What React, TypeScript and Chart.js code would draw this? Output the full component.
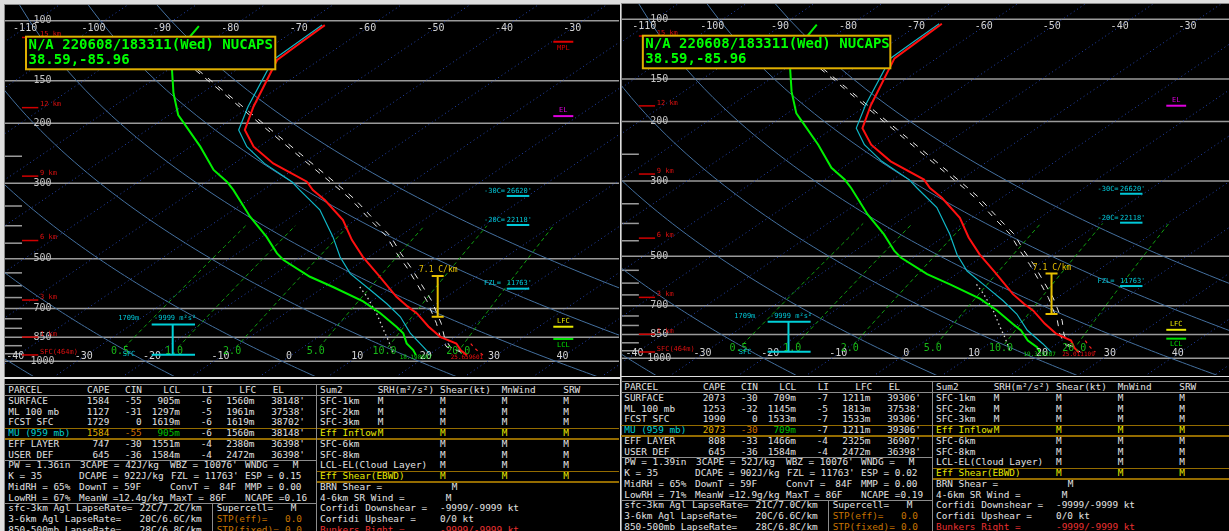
import React, { useEffect, useRef } from "react";
import { Chart, registerables } from "chart.js";
Chart.register(...registerables);

// ---------------- data ----------------
const SKEW = 32.13;
const majorIsobars = [100, 150, 200, 300, 500, 700, 850, 1000];
const minorIsobars = [250, 350, 400, 450, 550, 600, 650, 750, 800, 900, 950];
const topTempLabels = [-110, -100, -90, -80, -70, -60, -50, -40, -30];
const bottomTempLabels = [-40, -30, -20, -10, 0, 10, 20, 30, 40];
const isothermTemps = [-160, -150, -140, -130, -120, -110, -100, -90, -80, -70, -60, -50, -40, -30, -20, -10, 0, 10, 20, 30, 40, 50];
const dryAdiabatThetas = [-40, -20, 0, 20, 40, 60, 80];
const mixingRatios = [0.5, 1, 2, 5, 10, 20];
const mixingRatioLabels = ["0.5", "1.0", "2.0", "5.0", "10.0", "20.0"];
const heightLabels = ["15 km", "12 km", "9 km", "6 km", "3 km", "1 km", "SFC(464m)"];
const heightPressures = [112, 180, 286, 442, 661, 849, 958];

// left sounding
const tempP_L = [103, 116.3, 130.4, 178.9, 209.4, 234.3, 262.4, 297, 314.4, 336.1, 384.8, 440, 493.5, 560, 646.7, 690, 723.4, 790, 847.8, 886.7, 930, 959];
const tempT_L = [-66.8, -66.5, -66.2, -59.5, -55.7, -50.8, -44.3, -35.4, -32.7, -28.8, -21.8, -16.2, -10.9, -4.5, 2.7, 6.4, 9.3, 13.8, 17.8, 21.6, 23.8, 25.66];
const wetP_L = [103, 116.3, 130.4, 178.9, 209.4, 234.3, 262.4, 297, 314.4, 359.2, 431.3, 493.9, 552.8, 617.6, 676.4, 740.1, 826.6, 905.4, 959];
const wetT_L = [-67.2, -67.0, -66.8, -60.3, -56.6, -51.8, -45.6, -37.6, -34.6, -27.4, -19.6, -14.2, -9.1, -2.6, 2.7, 7.6, 12.6, 17.4, 20.4];
const dewP_L = [103.7, 111.4, 139.5, 163.4, 189.2, 198.2, 234.3, 274.2, 296.9, 314.4, 376.3, 430.4, 482.1, 504.4, 564.7, 605.2, 666.6, 722.3, 791.9, 827.1, 885.9, 926.5, 959];
const dewT_L = [-85.0, -84.0, -79.4, -74.1, -68.7, -66.5, -58.6, -51.6, -47.1, -44.3, -36.1, -29.4, -24.2, -21.8, -14.3, -8.7, -1.2, 3.9, 9.2, 11.6, 14.3, 16.7, 18.2];
const virtP_L = [886.7, 910, 930, 959];
const virtT_L = [23.7, 25.0, 26.2, 28.0];
const parcelP_L = [139.5, 251.1, 314.4, 336.1, 384.8, 430.4, 482.1, 528.8, 588.8, 662.6, 773.6, 847.8, 908.9, 929.2, 959];
const parcelT_L = [-76.0, -41.8, -28.7, -24.9, -17.8, -11.8, -6.7, -2.3, 2.6, 7.9, 14.3, 17.8, 21.0, 23.2, 25.66];
const parcelVT_L = [-75.6, -41.2, -28.1, -24.3, -17.2, -11.2, -6.1, -1.7, 3.2, 8.6, 15.0, 18.4, 21.5, 23.6, 25.9];
const downP_L = [605.2, 646.7, 723.4, 809, 866.6, 959];
const downT_L = [-4.8, -1.6, 3.4, 8.0, 10.9, 15.0];

// right sounding (modified surface)
const tempT_R = [-66.8, -66.5, -66.2, -59.5, -55.7, -50.8, -44.3, -35.4, -32.7, -28.8, -21.8, -16.2, -10.9, -4.5, 2.7, 6.4, 9.3, 13.8, 17.8, 21.4, 23.4, 25.01];
const wetT_R = [-67.2, -67.0, -66.8, -60.3, -56.6, -51.8, -45.6, -37.6, -34.6, -27.4, -19.6, -14.2, -9.1, -2.6, 2.7, 7.6, 12.7, 17.9, 21.0];
const dewT_R = [-85.0, -84.0, -79.4, -74.1, -68.7, -66.5, -58.6, -51.6, -47.1, -44.3, -36.1, -29.4, -24.2, -21.8, -14.3, -8.7, -1.2, 3.9, 9.2, 11.8, 15.0, 17.8, 19.3];
const virtT_R = [23.5, 24.7, 25.8, 27.5];
const parcelT_R = [-75.0, -40.8, -27.7, -23.9, -16.8, -10.8, -5.7, -1.3, 3.5, 8.7, 15.0, 18.3, 21.2, 23.0, 25.01];
const parcelVT_R = [-74.6, -40.2, -27.1, -23.3, -16.2, -10.2, -5.1, -0.7, 4.1, 9.4, 15.7, 18.9, 21.7, 23.4, 25.3];

// table data
const parcelNames = ["SURFACE", "ML 100 mb", "FCST SFC", "MU (959 mb)", "EFF LAYER", "USER DEF"];
const capeL = ["1584", "1127", "1729", "1584", "747", "645"];
const cinL = ["-55", "-31", "0", "-55", "-30", "-36"];
const lclL = ["905m", "1297m", "1619m", "905m", "1551m", "1584m"];
const liL = ["-6", "-5", "-6", "-6", "-4", "-4"];
const lfcL = ["1560m", "1961m", "1619m", "1560m", "2380m", "2472m"];
const elL = ["38148'", "37538'", "38702'", "38148'", "36398'", "36398'"];
const capeR = ["2073", "1253", "1990", "2073", "808", "645"];
const cinR = ["-30", "-32", "0", "-30", "-33", "-36"];
const lclR = ["709m", "1145m", "1533m", "709m", "1466m", "1584m"];
const liR = ["-7", "-5", "-7", "-7", "-4", "-4"];
const lfcR = ["1211m", "1813m", "1533m", "1211m", "2325m", "2472m"];
const elR = ["39306'", "37538'", "39306'", "39306'", "36907'", "36398'"];
const indicesL = [
  ["PW = 1.36in", "3CAPE = 42J/kg", "WBZ = 10076'", "WNDG =", "M"],
  ["K = 35", "DCAPE = 922J/kg", "FZL = 11763'", "ESP = 0.15", ""],
  ["MidRH = 65%", "DownT = 59F", "ConvT =", "84F", "MMP = 0.00"],
  ["LowRH = 67%", "MeanW =12.4g/kg", "MaxT = 86F", "NCAPE =0.16", ""],
];
const indicesR = [
  ["PW = 1.39in", "3CAPE = 52J/kg", "WBZ = 10076'", "WNDG =", "M"],
  ["K = 35", "DCAPE = 902J/kg", "FZL = 11763'", "ESP = 0.02", ""],
  ["MidRH = 65%", "DownT = 59F", "ConvT =", "84F", "MMP = 0.00"],
  ["LowRH = 71%", "MeanW =12.9g/kg", "MaxT = 86F", "NCAPE =0.19", ""],
];
const lapseNames = ["sfc-3km Agl LapseRate=", "3-6km Agl LapseRate=", "850-500mb LapseRate="];
const lapseL = ["22C/7.2C/km", "20C/6.6C/km", "28C/6.8C/km"];
const lapseR = ["21C/7.0C/km", "20C/6.6C/km", "28C/6.8C/km"];
const stormNames = ["Supercell=", "STP(eff)=", "STP(fixed)="];
const stormVals = ["M", "0.0", "0.0"];
const sum2Names = ["SFC-1km", "SFC-2km", "SFC-3km", "Eff Inflow", "SFC-6km", "SFC-8km", "LCL-EL(Cloud Layer)", "Eff Shear(EBWD)"];
const sum2Srh = ["M", "M", "M", "M", "", "", "", ""];
const sum2Shear = ["M", "M", "M", "M", "M", "M", "M", "M"];
const sum2Wind = ["M", "M", "M", "M", "M", "M", "M", "M"];
const sum2Srw = ["M", "M", "M", "M", "M", "M", "M", "M"];
const extraNames = ["BRN Shear =", "4-6km SR Wind =", "Corfidi Downshear =", "Corfidi Upshear =", "Bunkers Right ="];
const extraVals = ["M", "M", "-9999/-9999 kt", "0/0 kt", "-9999/-9999 kt"];

// ---------------- helpers ----------------
const MONO = '"DejaVu Sans Mono", monospace';
const skewX = (t: number, p: number) => t + SKEW * Math.log(1000 / p);
const pts = (ps: number[], ts: number[]) => ps.map((p, i) => ({ x: skewX(ts[i], p), y: p }));
const mixT = (w: number, p: number) => {
  const e = (w * p) / (622 + w);
  const l = Math.log(e / 6.112);
  return (243.5 * l) / (17.67 - l);
};
const curveP: number[] = [];
for (let p = 1130; p >= 80; p -= 10) curveP.push(p);
const mixP: number[] = [];
for (let p = 910; p >= 400; p -= 15) mixP.push(p);

function ds(data: any[], color: string, width: number, dash: number[], order: number) {
  return { data, showLine: true, borderColor: color, borderWidth: width, borderDash: dash, pointRadius: 0, fill: false, tension: 0, order, clip: 0 };
}

type Cfg = {
  id: string; left: number; top: number; width: number; height: number;
  xMin: number; xMax: number; pTop: number; pBot: number; k: number;
  tempT: number[]; wetT: number[]; dewT: number[]; virtT: number[]; parcelT: number[]; parcelVT: number[];
  sfcTLabel: string; sfcTdLabel: string;
  mpl: number | null; el: number; lfc: number; lcl: number;
};

const cfgs: Cfg[] = [
  { id: "L", left: 5, top: 5, width: 614, height: 371, xMin: -40.53, xMax: 49.24, pTop: 89.93, pBot: 1104.5, k: 1,
    tempT: tempT_L, wetT: wetT_L, dewT: dewT_L, virtT: virtT_L, parcelT: parcelT_L, parcelVT: parcelVT_L,
    sfcTLabel: "25.659601", sfcTdLabel: "18.198987", mpl: 115.3, el: 190.6, lfc: 791.6, lcl: 860 },
  { id: "R", left: 622, top: 4, width: 607, height: 371, xMin: -40.87, xMax: 48.52, pTop: 90.1, pBot: 1120, k: 0.9927,
    tempT: tempT_R, wetT: wetT_R, dewT: dewT_R, virtT: virtT_R, parcelT: parcelT_R, parcelVT: parcelVT_R,
    sfcTLabel: "25.011109", sfcTdLabel: "19.329207", mpl: null, el: 179.8, lfc: 824, lcl: 875 },
];

function makePlugin(cfg: Cfg) {
  return {
    id: "skew" + cfg.id,
    beforeDatasetsDraw(chart: any) {
      const { ctx, chartArea: a, scales } = chart;
      const ys = scales.y;
      ctx.save();
      ctx.strokeStyle = "#9a9a9a";
      ctx.lineWidth = 1.5;
      majorIsobars.forEach((p) => {
        const y = ys.getPixelForValue(p);
        ctx.beginPath(); ctx.moveTo(a.left, y); ctx.lineTo(a.right, y); ctx.stroke();
      });
      minorIsobars.forEach((p) => {
        const y = ys.getPixelForValue(p);
        ctx.beginPath(); ctx.moveTo(a.left, y); ctx.lineTo(a.left + 17 * cfg.k, y); ctx.stroke();
      });
      ctx.restore();
    },
    afterDatasetsDraw(chart: any) {
      const { ctx, chartArea: a, scales } = chart;
      const xs = scales.x, ys = scales.y;
      const k = cfg.k;
      const RX = (r: number) => a.left + r * k;
      const PX = (t: number, p: number) => xs.getPixelForValue(skewX(t, p));
      const PY = (p: number) => ys.getPixelForValue(p);
      const text = (s: string, x: number, y: number, color: string, font: string, align: CanvasTextAlign = "center") => {
        ctx.font = font; ctx.fillStyle = color; ctx.textAlign = align; ctx.textBaseline = "middle";
        ctx.fillText(s, x, y);
      };
      const hline = (x1: number, x2: number, y: number, color: string, w: number) => {
        ctx.strokeStyle = color; ctx.lineWidth = w; ctx.setLineDash([]);
        ctx.beginPath(); ctx.moveTo(x1, y); ctx.lineTo(x2, y); ctx.stroke();
      };
      ctx.save();
      majorIsobars.forEach((p) => text(String(p), RX(37.5), PY(p), "#c4c4c4", "10px " + MONO));
      topTempLabels.forEach((t) => text(String(t), PX(t, 105), PY(105), "#d4d4d4", "10px " + MONO));
      bottomTempLabels.forEach((t) => text(String(t), PX(t, 970), PY(970), "#d4d4d4", "10px " + MONO));
      mixingRatios.forEach((w, i) => text(mixingRatioLabels[i], PX(mixT(w, 937), 937), PY(937), "#18b818", "10px " + MONO));
      heightPressures.forEach((p, i) => {
        const y = PY(p);
        hline(RX(17), RX(33.3), y, "#d00000", 1.5);
        text(heightLabels[i], RX(35), y - 3, "#e01010", "7px " + MONO, "left");
      });
      const marker = (p: number, label: string, color: string, above: boolean) => {
        const y = PY(p);
        hline(RX(548.3), RX(568.3), y, color, 2);
        text(label, RX(558.3), above ? y - 6 : y + 6, color, "7px " + MONO);
      };
      if (cfg.mpl) marker(cfg.mpl, "MPL", "#e00000", false);
      marker(cfg.el, "EL", "#e000e0", true);
      marker(cfg.lfc, "LFC", "#e8e800", true);
      marker(cfg.lcl, "LCL", "#00e000", false);
      const lvl = (p: number, lab: string, val: string) => {
        const y = PY(p);
        hline(RX(501.7), RX(524.3), y, "#00c8d8", 2);
        text(lab, RX(479), y - 5, "#00c8d8", "7px " + MONO, "left");
        text(val, RX(501.7), y - 5, "#00c8d8", "7px " + MONO, "left");
      };
      lvl(327, "-30C=", "26620'");
      lvl(398, "-20C=", "22118'");
      lvl(612, "FZL=", "11763'");
      {
        const yT = PY(780), yB = PY(956), xc = RX(167.7);
        ctx.strokeStyle = "#00d0d8"; ctx.lineWidth = 2; ctx.setLineDash([]);
        ctx.beginPath();
        ctx.moveTo(RX(146.7), yT); ctx.lineTo(RX(190), yT);
        ctx.moveTo(RX(146.7), yB); ctx.lineTo(RX(190), yB);
        ctx.moveTo(xc, yT); ctx.lineTo(xc, yB);
        ctx.stroke();
        text("1709m", RX(134.3), yT - 6, "#00c8d8", "7px " + MONO, "right");
        text("-9999 m²s²", RX(149), yT - 6, "#00c8d8", "7px " + MONO, "left");
        text("SFC", RX(124), yB, "#00c8d8", "7px " + MONO);
      }
      {
        const yT = PY(562), yB = PY(740), xc = RX(432.7);
        ctx.strokeStyle = "#e8c000"; ctx.lineWidth = 2; ctx.setLineDash([]);
        ctx.beginPath();
        ctx.moveTo(xc - 6, yT); ctx.lineTo(xc + 6, yT);
        ctx.moveTo(xc - 6, yB); ctx.lineTo(xc + 6, yB);
        ctx.moveTo(xc, yT); ctx.lineTo(xc, yB);
        ctx.stroke();
        text("7.1 C/km", RX(433.3), yT - 6, "#e8c000", "8px " + MONO);
      }
      text(cfg.sfcTdLabel, PX(cfg.dewT[cfg.dewT.length - 1], 959), PY(959) + 2, "#10d010", "6px " + MONO);
      text(cfg.sfcTLabel, PX(cfg.tempT[cfg.tempT.length - 1], 959), PY(959) + 2, "#f01010", "6px " + MONO);
      {
        const x1 = RX(21), x2 = RX(270.3), y1 = a.top + 31.7, y2 = a.top + 64.3;
        ctx.fillStyle = "#000"; ctx.fillRect(x1, y1, x2 - x1, y2 - y1);
        ctx.strokeStyle = "#e0b000"; ctx.lineWidth = 2; ctx.strokeRect(x1, y1, x2 - x1, y2 - y1);
        text("N/A 220608/183311(Wed) NUCAPS", x1 + 2.5, a.top + 40, "#00ff00", "bold 14px " + MONO, "left");
        text("38.59,-85.96", x1 + 2.5, a.top + 55.5, "#00ff00", "bold 14px " + MONO, "left");
      }
      ctx.restore();
    },
  };
}

function SkewT({ cfg }: { cfg: Cfg }) {
  const ref = useRef<HTMLCanvasElement>(null);
  useEffect(() => {
    const datasets: any[] = [];
    isothermTemps.forEach((t) =>
      datasets.push(ds([{ x: skewX(t, 1130), y: 1130 }, { x: skewX(t, 80), y: 80 }], "#2444b0", 1, [1, 3], 30)));
    dryAdiabatThetas.forEach((th) =>
      datasets.push(ds(curveP.map((p) => ({ x: skewX((th + 273.15) * Math.pow(p / 1000, 0.2857) - 273.15, p), y: p })), "#44709f", 1, [], 29)));
    mixingRatios.forEach((w) =>
      datasets.push(ds(mixP.map((p) => ({ x: skewX(mixT(w, p), p), y: p })), "#10a010", 1, [4, 3], 28)));
    datasets.push(ds(pts(downP_L, downT_L), "#d8d8d8", 1.3, [1.5, 3], 6));
    datasets.push(ds(pts(parcelP_L, cfg.parcelT), "#e8e8e8", 1, [6, 7], 5));
    datasets.push(ds(pts(parcelP_L, cfg.parcelVT), "#e8e8e8", 1, [6, 7], 5));
    datasets.push(ds(pts(virtP_L, cfg.virtT), "#ff2020", 1.2, [3, 4], 4));
    datasets.push(ds(pts(wetP_L, cfg.wetT), "#10b8c8", 1.2, [], 3));
    datasets.push(ds(pts(dewP_L, cfg.dewT), "#00f000", 2, [], 2));
    datasets.push(ds(pts(tempP_L, cfg.tempT), "#ff1010", 2, [], 1));
    const chart = new Chart(ref.current!, {
      type: "scatter",
      data: { datasets },
      options: {
        animation: false,
        responsive: false,
        maintainAspectRatio: false,
        devicePixelRatio: 1,
        events: [],
        layout: { padding: 0 },
        plugins: { legend: { display: false }, tooltip: { enabled: false }, title: { display: false } },
        scales: {
          x: { type: "linear", min: cfg.xMin, max: cfg.xMax, display: false },
          y: { type: "logarithmic", reverse: true, min: cfg.pTop, max: cfg.pBot, display: false },
        },
      },
      plugins: [makePlugin(cfg)],
    } as any);
    return () => chart.destroy();
  }, [cfg]);
  return (
    <canvas ref={ref} width={cfg.width} height={cfg.height}
      style={{ position: "absolute", left: cfg.left, top: cfg.top, width: cfg.width, height: cfg.height, background: "#000" }} />
  );
}

// ---------------- table ----------------
const TXT = "#e2e2e2";
function T({ x, y, s, c = TXT, a = "left" }: { x: number; y: number; s: string; c?: string; a?: string }) {
  const st: any = { position: "absolute", top: y - 6, whiteSpace: "pre", font: "9.4px " + MONO, lineHeight: "12px", color: c };
  if (a === "right") { st.left = x - 300; st.width = 300; st.textAlign = "right"; } else st.left = x;
  return <div style={st}>{s}</div>;
}
function L({ x, y, w, h, c }: { x: number; y: number; w: number; h: number; c: string }) {
  return <div style={{ position: "absolute", left: x, top: y, width: w, height: h, background: c }} />;
}

function Table({ dx, dy, right }: { dx: number; dy: number; right: boolean }) {
  const cape = right ? capeR : capeL, cin = right ? cinR : cinL, lcl = right ? lclR : lclL;
  const li = right ? liR : liL, lfc = right ? lfcR : lfcL, el = right ? elR : elL;
  const idx = right ? indicesR : indicesL, lapse = right ? lapseR : lapseL;
  const row = (i: number) => 390 + 10.75 * i + dy;
  const X = (x: number) => x + dx;
  const out: any[] = [];
  const GR = "#8c8c8c", GO = "#946c00";
  out.push(<L key="t" x={X(5)} y={row(0) - 5.6} w={614} h={1} c={GR} />);
  out.push(<L key="h" x={X(5)} y={row(0.5)} w={614} h={1} c={GR} />);
  out.push(<L key="g1" x={X(5)} y={row(3.5)} w={614} h={1.3} c={GO} />);
  out.push(<L key="g2" x={X(5)} y={row(4.5)} w={614} h={1.3} c={GO} />);
  out.push(<L key="g3" x={X(316)} y={row(7.5)} w={303} h={1.3} c={GO} />);
  out.push(<L key="g4" x={X(316)} y={row(8.5)} w={303} h={1.3} c={GO} />);
  out.push(<L key="l1" x={X(5)} y={row(6.5)} w={311} h={1} c={GR} />);
  out.push(<L key="l2" x={X(5)} y={row(10.5)} w={311} h={1} c={GR} />);
  out.push(<L key="v1" x={X(316)} y={row(0) - 5.6} w={1} h={160} c={GR} />);
  out.push(<L key="v2" x={X(212.3)} y={row(10.5)} w={1} h={40} c={GR} />);
  const hdr: [string, number][] = [["PARCEL", 8.3], ["CAPE", 87], ["CIN", 125], ["LCL", 163.3], ["LI", 201.7], ["LFC", 239.3], ["EL", 272.7]];
  hdr.forEach(([s, x], j) => out.push(<T key={"ph" + j} x={X(x)} y={row(0)} s={s} />));
  parcelNames.forEach((n, i) => {
    const mu = i === 3;
    const y = row(i + 1);
    out.push(<T key={"pn" + i} x={X(8.3)} y={y} s={n} c={mu ? "#00d0d0" : TXT} />);
    out.push(<T key={"pc" + i} x={X(109.3)} y={y} s={cape[i]} c={mu ? "#e0b000" : TXT} a="right" />);
    out.push(<T key={"pi" + i} x={X(141.7)} y={y} s={cin[i]} c={mu ? "#d07000" : TXT} a="right" />);
    out.push(<T key={"pl" + i} x={X(180)} y={y} s={lcl[i]} c={mu ? "#00c000" : TXT} a="right" />);
    out.push(<T key={"pli" + i} x={X(212)} y={y} s={li[i]} a="right" />);
    out.push(<T key={"pf" + i} x={X(254.5)} y={y} s={lfc[i]} a="right" />);
    out.push(<T key={"pe" + i} x={X(305)} y={y} s={el[i]} a="right" />);
  });
  const idxX = [[8.3, 80, 170, 245, 292.7], [8.3, 79, 171, 245, 0], [8.3, 79, 170, 219.3, 245], [8.3, 79, 170, 245, 0]];
  idx.forEach((r, i) => r.forEach((s, j) => s && out.push(<T key={"ix" + i + j} x={X(idxX[i][j])} y={row(7 + i)} s={s} />)));
  lapseNames.forEach((n, i) => {
    const y = row(11 + i);
    const c = i === 0 ? TXT : "#c87400";
    out.push(<T key={"ln" + i} x={X(8.3)} y={y} s={n} />);
    out.push(<T key={"lv" + i} x={X(201.7)} y={y} s={lapse[i]} a="right" />);
    out.push(<T key={"sn" + i} x={X(216.7)} y={y} s={stormNames[i]} c={c} />);
    out.push(<T key={"sv" + i} x={X(i === 0 ? 290.7 : 285)} y={y} s={stormVals[i]} c={c} />);
  });
  const sh: [string, number][] = [["Sum2", 320], ["SRH(m²/s²)", 377.7], ["Shear(kt)", 440], ["MnWind", 501.7], ["SRW", 563.3]];
  sh.forEach(([s, x], j) => out.push(<T key={"sh" + j} x={X(x)} y={row(0)} s={s} />));
  sum2Names.forEach((n, i) => {
    const y = row(i + 1);
    const c = i === 3 || i === 7 ? "#e8e800" : TXT;
    out.push(<T key={"sn2" + i} x={X(320)} y={y} s={n} c={c} />);
    if (sum2Srh[i]) out.push(<T key={"sr" + i} x={X(377.7)} y={y} s={sum2Srh[i]} c={c} />);
    out.push(<T key={"ss" + i} x={X(440)} y={y} s={sum2Shear[i]} c={c} />);
    out.push(<T key={"sw" + i} x={X(501.7)} y={y} s={sum2Wind[i]} c={c} />);
    out.push(<T key={"sv2" + i} x={X(563.3)} y={y} s={sum2Srw[i]} c={c} />);
  });
  const exX = [451.7, 445.7, 440, 440, 440];
  extraNames.forEach((n, i) => {
    const y = row(9 + i);
    const c = i === 4 ? "#e83030" : TXT;
    out.push(<T key={"en" + i} x={X(320)} y={y} s={n} c={c} />);
    out.push(<T key={"ev" + i} x={X(exX[i])} y={y} s={extraVals[i]} c={c} />);
  });
  return <>{out}</>;
}

export default function App() {
  return (
    <div style={{ position: "fixed", left: 0, top: 0, width: 1229, height: 531, overflow: "hidden", background: "#dedede" }}>
      <div style={{ position: "absolute", left: 4, top: 4, width: 616, height: 373, background: "#000", borderTop: "1px solid #8a8a8a", borderLeft: "1px solid #8a8a8a", boxSizing: "border-box" }} />
      <div style={{ position: "absolute", left: 621, top: 3, width: 610, height: 373, background: "#000", borderTop: "1px solid #8a8a8a", borderLeft: "1px solid #8a8a8a", boxSizing: "border-box" }} />
      <div style={{ position: "absolute", left: 4, top: 379, width: 616, height: 152, background: "#000", borderLeft: "1px solid #8a8a8a", boxSizing: "border-box" }} />
      <div style={{ position: "absolute", left: 621, top: 377, width: 610, height: 154, background: "#000", borderLeft: "1px solid #8a8a8a", boxSizing: "border-box" }} />
      <SkewT cfg={cfgs[0]} />
      <SkewT cfg={cfgs[1]} />
      <Table dx={0} dy={0} right={false} />
      <Table dx={616} dy={-3} right={true} />
    </div>
  );
}
